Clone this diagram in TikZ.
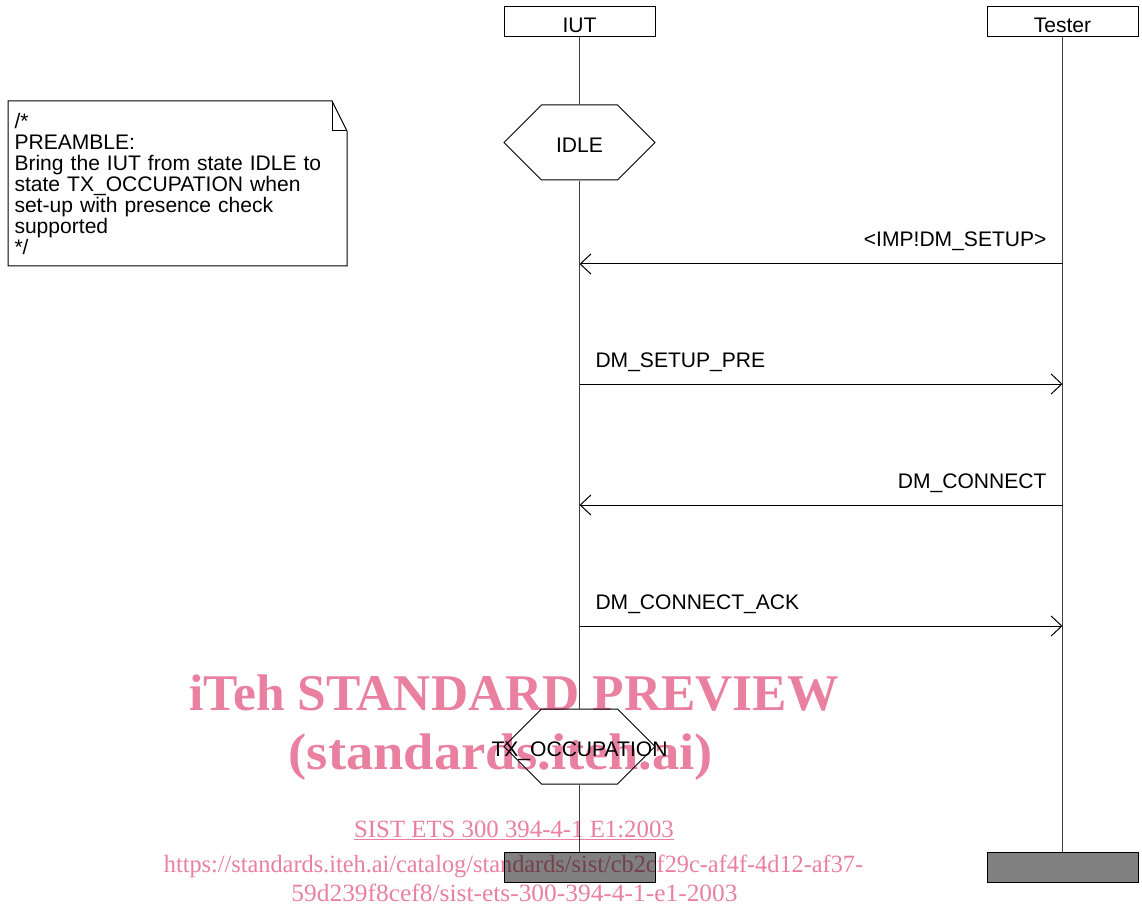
\documentclass[tikz,border=0pt]{standalone}
\usepackage{fontspec}
\usepackage{xcolor}
\usepackage{graphicx}
\usepackage{tikz}
\usetikzlibrary{shapes.symbols,arrows.meta,positioning,calc}
\newfontfamily\mscsans{Liberation Sans}
\newfontfamily\wmserif{Liberation Serif}
\newcommand{\mscfont}{\mscsans\fontsize{15.8}{15.75}\selectfont}
\definecolor{wmpink}{RGB}{233,128,160}

\begin{document}
\begin{tikzpicture}[x=0.75pt, y=-0.75pt, line width=0.75pt,
  inst/.style={rectangle, draw, minimum width=113.25pt, minimum height=22.5pt,
               inner sep=0pt, text height=16pt, text depth=0pt, font=\mscfont},
  state/.style={signal, signal to=west and east, draw, minimum width=113.25pt,
                minimum height=56.25pt, inner sep=0pt},
  stopbox/.style={rectangle, draw, fill=gray, minimum width=113.25pt, minimum height=22.5pt},
  note/.style={rectangle, minimum width=253.5pt, minimum height=123pt, inner xsep=4.5pt,
               text width=244.5pt, align=left, font=\mscfont},
  life/.style={black!75},
  msg/.style={-{Straight Barb[length=8pt,width=15pt]}},
  labl/.style={font=\mscfont, inner sep=0pt},
  stlabl/.style={labl, text height=15pt, text depth=0pt},
  wmbig/.style={text=wmpink, font=\wmserif\bfseries\fontsize{38.6}{40}\selectfont},
  wmsmall/.style={text=wmpink, font=\wmserif\fontsize{18.6}{20}\selectfont},
]
\useasboundingbox (0,0) rectangle (1142,909);

% instances
\node[inst] (iut)    at (579.5,22)  {IUT};
\node[inst] (tester) at (1062.5,22) {Tester};

% states
\node[state] (idle)  at (579.5,142.5) {};
\node[stlabl]        at (idle) {IDLE};
\node[state] (txocc) at (579.5,746.5) {};
\node[stlabl]        at (txocc) {TX\_OCCUPATION};

% instance ends
\node[stopbox] (iutend)    at (579.5,867)  {};
\node[stopbox] (testerend) at (1062.5,867) {};

% lifelines
\draw[life] (iut)    -- (idle);
\draw[life] (idle)   -- (txocc);
\draw[life] (txocc)  -- (iutend);
\draw[life] (tester) -- (testerend);

% comment
\node[note, anchor=north west] (pre) at (8,101)
  {/*\\PREAMBLE:\\Bring the IUT from state IDLE to\\state TX\_OCCUPATION when\\
   set-up with presence check\\supported\\{*}/};
\draw (pre.north west) -- ([xshift=-11.25pt]pre.north east)
      -- ([yshift=-22.5pt]pre.north east) -- (pre.south east)
      -- (pre.south west) -- cycle;
\draw ([xshift=-11.25pt]pre.north east) -- ([xshift=-11.25pt,yshift=-22.5pt]pre.north east)
      -- ([yshift=-22.5pt]pre.north east);

% messages
\draw[msg] (tester |- 0,264) -- (iut |- 0,264);
\node[labl, anchor=base east] (m1) at (1047,247) {<IMP!DM\_SETUP>};
\draw[msg] (iut |- 0,384) -- (tester |- 0,384);
\node[labl, anchor=base west] (m2) at (595,367) {DM\_SETUP\_PRE};
\draw[msg] (tester |- 0,505) -- (iut |- 0,505);
\node[labl, anchor=base east] (m3) at (1047,488) {DM\_CONNECT};
\draw[msg] (iut |- 0,626) -- (tester |- 0,626);
\node[labl, anchor=base west] (m4) at (595,609) {DM\_CONNECT\_ACK};

% watermark
\begin{scope}[blend mode=multiply]
\node[wmbig, anchor=base]   (wm1) at (514,710) {iTeh STANDARD PREVIEW};
\node[wmbig, anchor=base]   (wm2) at (501,769) {\scalebox{1.06}[1]{(standards.iteh.ai)}};
\node[wmsmall, anchor=base] (wm3) at (514,837) {\underline{SIST ETS 300 394-4-1 E1:2003}};
\node[wmsmall, anchor=base] (wm4) at (513.5,872) {\scalebox{0.98}[1]{https://standards.iteh.ai/catalog/standards/sist/cb2cf29c-af4f-4d12-af37-}};
\node[wmsmall, anchor=base] (wm5) at (514.5,901) {\scalebox{1.025}[1]{59d239f8cef8/sist-ets-300-394-4-1-e1-2003}};
\end{scope}
\end{tikzpicture}
\end{document}
